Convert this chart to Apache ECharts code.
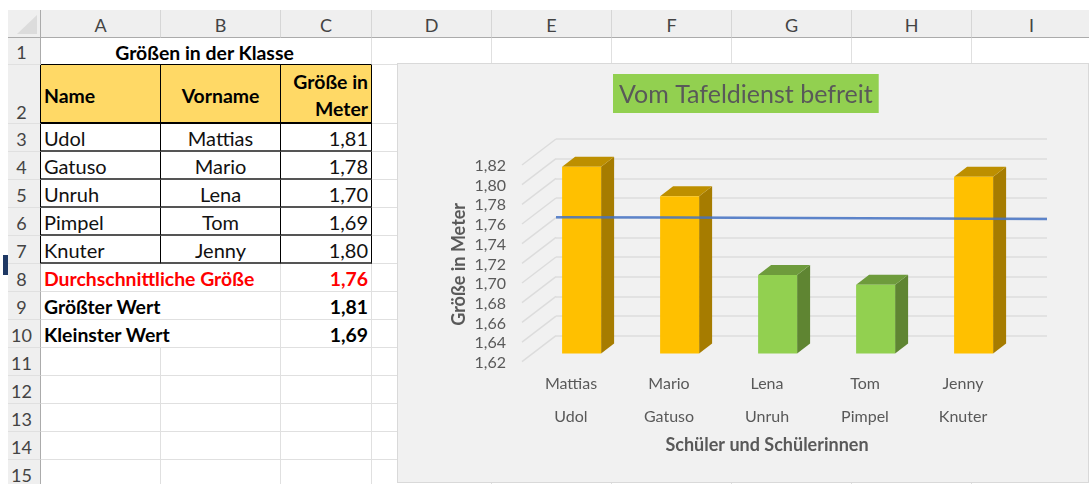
<!DOCTYPE html>
<html lang="de">
<head>
<meta charset="utf-8">
<title>Größen in der Klasse</title>
<script src="https://cdn.jsdelivr.net/npm/echarts@6/dist/echarts.min.js"></script>
<style>
  html, body { margin: 0; width: 1089px; height: 484px; overflow: hidden; background: #fff; font-family: Lato, sans-serif; }
  #sheet { position: absolute; left: 8px; top: 10px; border-collapse: separate; border-spacing: 0; table-layout: fixed; width: 1084px; font-size: 20px; color: #111; }
  #sheet td, #sheet th { box-sizing: border-box; padding: 2px 3px 0; border-right: 1px solid #e0e0e0; border-bottom: 1px solid #e0e0e0; white-space: nowrap; font-weight: normal; }
  #sheet tr { height: 28px; }
  #sheet th { background: #efefef; color: #444; font-size: 18px; text-align: center; border-right-color: #d6d6d6; }
  #sheet tr.head th { border-bottom: 1px solid #ababab; }
  #sheet th.rownum { border-right: 1px solid #ababab; padding-right: 8px; }
  #sheet td.box { border-right: 1px solid #000; border-bottom: 2px solid #555; }
  #sheet th.boxed { border-right: 1px solid #000; }
  #sheet .b { font-weight: bold; color: #000; font-size: 19.4px; }
  #sheet .fill { background: #ffd966; padding-top: 3px; border-bottom-color: #000 !important; }
  #sheet .r { text-align: right; }
  #sheet .c { text-align: center; }
  #sheet .red { color: #f00; }
  #corner { position: absolute; left: 17px; top: 15px; width: 20px; height: 19px; background: #dcdcdc; clip-path: polygon(100% 0, 100% 100%, 0 100%); }
  #sliver { position: absolute; left: 3px; top: 255px; width: 5px; height: 20px; background: #1f3864; }
  #chart { position: absolute; left: 397px; top: 63px; width: 692px; height: 420px; background: #f1f1f1; outline: 1px solid #d9d9d9; outline-offset: -1px; }
</style>
</head>
<body>
<table id="sheet"></table>
<div id="corner"></div>
<div id="sliver"></div>
<div id="chart"></div>
<script>
var lastNames = ['Udol', 'Gatuso', 'Unruh', 'Pimpel', 'Knuter'];
var firstNames = ['Mattias', 'Mario', 'Lena', 'Tom', 'Jenny'];
var heights = [1.81, 1.78, 1.70, 1.69, 1.80];
var averageLine = [1.7587, 1.7583, 1.7579, 1.7574, 1.7569];
var summaryLabels = ['Durchschnittliche Größe', 'Größter Wert', 'Kleinster Wert'];
var summaryValues = [1.76, 1.81, 1.69];
var columnNames = ['A', 'B', 'C', 'D', 'E', 'F', 'G', 'H', 'I'];
var columnWidths = [33, 120, 120, 91, 120, 120, 120, 120, 120, 120];

function comma(v) { return v.toFixed(2).replace('.', ','); }

// the worksheet behind the chart
function emptyCells(n) { return new Array(n + 1).join('<td></td>'); }

var html = '<colgroup>' + columnWidths.map(function (w) { return '<col style="width:' + w + 'px">'; }).join('') + '</colgroup>';
html += '<tr class="head"><th class="rownum"></th>' + columnNames.map(function (c) { return '<th>' + c + '</th>'; }).join('') + '</tr>';
html += '<tr style="height:27px"><th class="rownum">1</th><td colspan="3" class="c b" style="border-bottom:1px solid #000;padding-right:6px">Größen in der Klasse</td>' + emptyCells(6) + '</tr>';
html += '<tr style="height:59px"><th class="rownum boxed" style="vertical-align:bottom">2</th>'
  + '<td class="box b fill">Name</td><td class="box b fill c">Vorname</td>'
  + '<td class="box b fill r" style="line-height:27px">Größe in<br>Meter</td>' + emptyCells(6) + '</tr>';
lastNames.forEach(function (name, i) {
  html += '<tr><th class="rownum boxed">' + (i + 3) + '</th><td class="box">' + name + '</td><td class="box c">' + firstNames[i]
    + '</td><td class="box r">' + comma(heights[i]) + '</td>' + emptyCells(6) + '</tr>';
});
summaryLabels.forEach(function (label, i) {
  var cls = i === 0 ? 'b red' : 'b';
  html += '<tr><th class="rownum">' + (i + 8) + '</th><td colspan="2" class="' + cls + '">' + label
    + '</td><td class="r ' + cls + '">' + comma(summaryValues[i]) + '</td>' + emptyCells(6) + '</tr>';
});
for (var r = 11; r <= 15; r++) {
  html += '<tr><th class="rownum">' + r + '</th>' + emptyCells(9) + '</tr>';
}
document.getElementById('sheet').innerHTML = html;

// depth of the fake 3D box
var wallDx = 34, wallDy = 26, barDx = 13, barDy = 10, barWidth = 39;
var ticks = [1.62, 1.64, 1.66, 1.68, 1.70, 1.72, 1.74, 1.76, 1.78, 1.80, 1.82];

function renderBar(params, api) {
  var top = api.coord([api.value(0), api.value(1)]);
  var base = api.coord([api.value(0), 1.62]);
  var x0 = top[0] - barWidth / 2, x1 = top[0] + barWidth / 2;
  var low = api.value(1) < 1.75;
  return {
    type: 'group',
    children: [
      { type: 'polygon', shape: { points: [[x1, top[1]], [x1 + barDx, top[1] - barDy], [x1 + barDx, base[1] - barDy], [x1, base[1]]] }, style: { fill: low ? '#5f8532' : '#a67c00' } },
      { type: 'polygon', shape: { points: [[x0, top[1]], [x0 + barDx, top[1] - barDy], [x1 + barDx, top[1] - barDy], [x1, top[1]]] }, style: { fill: low ? '#6e9b3c' : '#bd8f00' } },
      { type: 'rect', shape: { x: x0, y: top[1], width: barWidth, height: base[1] - top[1] }, style: { fill: low ? '#92d050' : '#ffc000' } }
    ]
  };
}

function renderSideLine(params, api) {
  var y = api.coord([0, api.value(0)])[1];
  var x = params.coordSys.x;
  return { type: 'line', shape: { x1: x, y1: y, x2: x - wallDx, y2: y + wallDy }, style: { stroke: '#dcdcdc', lineWidth: 1.5 } };
}

function yAxisBase(grid, extra) {
  return Object.assign({
    type: 'value', gridIndex: grid, min: 1.62, max: 1.82, interval: 0.02,
    axisLine: { show: false }, axisTick: { show: false }, axisLabel: { show: false }, splitLine: { show: false }
  }, extra);
}

function xAxisBase(grid, extra) {
  return Object.assign({
    type: 'category', gridIndex: grid, data: firstNames,
    axisLine: { show: false }, axisTick: { show: false }, axisLabel: { show: false }, splitLine: { show: false }
  }, extra);
}

var labelStyle = { show: true, color: '#595959', fontFamily: 'Lato', fontSize: 16 };
var nameStyle = { color: '#595959', fontFamily: 'Lato', fontSize: 18, fontWeight: 'bold' };

var myChart = echarts.init(document.getElementById('chart'));
var option = {
  animation: false,
  title: {
    text: 'Vom Tafeldienst befreit',
    left: 216,
    top: 11,
    padding: [8, 6, 6, 6],
    backgroundColor: '#92d050',
    textStyle: { color: '#595959', fontFamily: 'Lato', fontSize: 25, fontWeight: 'normal', lineHeight: 25 }
  },
  grid: [
    { left: 159, top: 76, width: 491, height: 196.7 },   // back wall
    { left: 135.6, top: 94, width: 490, height: 196.5 }, // bars
    { left: 159, top: 94, width: 491, height: 196.5 },   // average line
    { left: 125, top: 103, width: 490, height: 196.7 }   // front edge, labels
  ],
  xAxis: [
    xAxisBase(0),
    xAxisBase(1),
    xAxisBase(2, { boundaryGap: false }),
    xAxisBase(3, { axisLabel: Object.assign({ margin: 13 }, labelStyle) }),
    xAxisBase(3, {
      data: lastNames, position: 'bottom', offset: 33,
      axisLabel: Object.assign({ margin: 13 }, labelStyle),
      name: 'Schüler und Schülerinnen', nameLocation: 'middle', nameGap: 40, nameTextStyle: nameStyle
    })
  ],
  yAxis: [
    yAxisBase(0, { splitLine: { show: true, lineStyle: { color: '#dcdcdc', width: 1.5 } } }),
    yAxisBase(1),
    yAxisBase(2),
    yAxisBase(3, {
      axisLabel: Object.assign({ margin: 16, formatter: comma }, labelStyle),
      name: 'Größe in Meter', nameLocation: 'middle', nameGap: 54, nameMoveOverlap: false, nameTextStyle: nameStyle
    })
  ],
  series: [
    { type: 'custom', name: 'Wand', xAxisIndex: 0, yAxisIndex: 0, data: ticks.map(function (t) { return [t]; }), encode: { y: 0 }, renderItem: renderSideLine, silent: true, z: 1 },
    { type: 'custom', name: 'Größe in Meter', xAxisIndex: 1, yAxisIndex: 1, data: heights.map(function (h, i) { return [i, h]; }), encode: { x: 0, y: 1 }, renderItem: renderBar, z: 2 },
    { type: 'line', name: 'Durchschnitt', xAxisIndex: 2, yAxisIndex: 2, data: averageLine, symbol: 'none', lineStyle: { color: '#4472c4', width: 2.5, opacity: 0.85 }, z: 3 }
  ]
};
myChart.setOption(option);
</script>
</body>
</html>
